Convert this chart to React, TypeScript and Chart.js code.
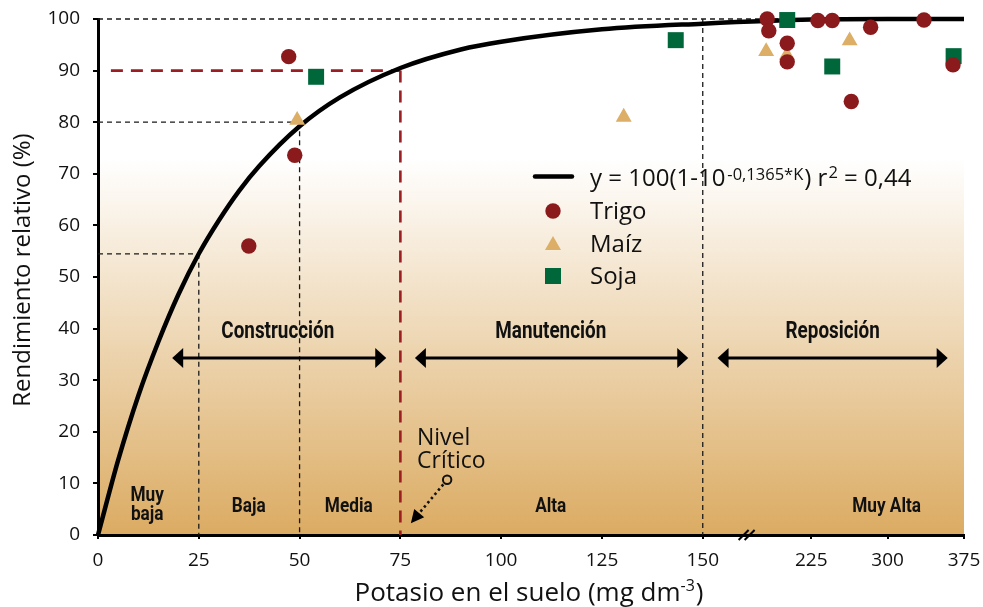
import React, { useEffect, useRef } from 'react';
import { Chart, registerables } from 'chart.js';

Chart.register(...registerables);

// ---------- data ----------
const X_TICKS = [0, 25, 50, 75, 100, 125, 150, 225, 300, 375];
const Y_MIN = 0;
const Y_MAX = 100;
const Y_STEP = 10;

// fitted curve y = 100(1-10^(-0,01365*K))
const CURVE_K = [0, 5, 10, 15, 20, 25, 30, 35, 40, 50, 60, 75, 90, 100, 125, 150, 225, 300, 375];
const CURVE_Y = [0, 14.5, 27, 37.5, 46.7, 54.5, 61, 66.7, 71.5, 79.2, 84.8, 90.5, 94.1, 95.6, 98, 99.1, 99.9, 100, 100];

const TRIGO_K = [47.3, 48.8, 37.4, 181.7, 183.3, 201.4, 201.4, 231.5, 245.6, 283.3, 264.3, 335.7, 364.2];
const TRIGO_Y = [92.7, 73.6, 56.0, 100, 97.7, 95.3, 91.7, 99.7, 99.7, 98.4, 84.0, 99.8, 91.1];

const MAIZ_K = [49.4, 130.4, 180.7, 201.0, 262.7];
const MAIZ_Y = [80.4, 81.0, 93.7, 93.0, 95.8];

const SOJA_K = [54.1, 143.3, 201.4, 245.6, 364.8];
const SOJA_Y = [88.8, 95.9, 99.8, 90.8, 92.8];

const SERIES_NAMES = ['Trigo', 'Maíz', 'Soja'];
const CURVE_LABEL_MAIN = 'y = 100(1-10';
const CURVE_LABEL_EXP = '-0,1365*K';
const R2_VALUE = '0,44';

const ZONES = [
  { k: 12.2, lines: ['Muy', 'baja'] },
  { k: 37.4, lines: ['Baja'] },
  { k: 62.2, lines: ['Media'] },
  { k: 112.3, lines: ['Alta'] },
  { k: 299, lines: ['Muy Alta'] },
];
const PHASES = [
  { label: 'Construcción', from: 18.4, to: 71.5, mid: 44.6 },
  { label: 'Manutención', from: 78.6, to: 146.4, mid: 112.3 },
  { label: 'Reposición', from: 153.5, to: 359, mid: 246 },
];

// ---------- broken x axis mapping ----------
const KB = [0, 150, 160, 375];
const UB = [0, 150, 160.5, 214.8];
function toU(k: number): number {
  for (let i = 1; i < KB.length; i++) {
    if (k <= KB[i] || i === KB.length - 1) {
      const t = (k - KB[i - 1]) / (KB[i] - KB[i - 1]);
      return UB[i - 1] + t * (UB[i] - UB[i - 1]);
    }
  }
  return 0;
}
function fromU(u: number): number {
  for (let i = 1; i < UB.length; i++) {
    if (u <= UB[i] || i === UB.length - 1) {
      const t = (u - UB[i - 1]) / (UB[i] - UB[i - 1]);
      return KB[i - 1] + t * (KB[i] - KB[i - 1]);
    }
  }
  return 0;
}

const FONT = '"Open Sans", Lato, sans-serif';
const COND = 'Roboto, "DejaVu Sans", sans-serif';
const RED = '#8b1a1d';
const TAN = '#dcae66';
const GREEN = '#00673a';
const DASHRED = '#9c1d22';

function condText(ctx: CanvasRenderingContext2D, text: string, x: number, y: number, size: number) {
  ctx.save();
  ctx.font = `bold ${size}px ${COND}`;
  ctx.textAlign = 'center';
  ctx.textBaseline = 'middle';
  ctx.translate(x, y);
  ctx.scale(0.82, 1);
  ctx.fillStyle = '#111';
  ctx.fillText(text, 0, 0);
  ctx.restore();
}

function dblArrow(ctx: CanvasRenderingContext2D, x1: number, x2: number, y: number) {
  const hl = 11, hh = 10;
  ctx.save();
  ctx.strokeStyle = '#000';
  ctx.fillStyle = '#000';
  ctx.lineWidth = 3;
  ctx.setLineDash([]);
  ctx.beginPath();
  ctx.moveTo(x1 + hl - 1, y);
  ctx.lineTo(x2 - hl + 1, y);
  ctx.stroke();
  ctx.beginPath();
  ctx.moveTo(x1, y);
  ctx.lineTo(x1 + hl, y - hh);
  ctx.lineTo(x1 + hl, y + hh);
  ctx.closePath();
  ctx.fill();
  ctx.beginPath();
  ctx.moveTo(x2, y);
  ctx.lineTo(x2 - hl, y - hh);
  ctx.lineTo(x2 - hl, y + hh);
  ctx.closePath();
  ctx.fill();
  ctx.restore();
}

const decorPlugin = {
  id: 'decor',
  beforeDraw(chart: any) {
    const { ctx, chartArea: ca } = chart;
    ctx.save();
    ctx.fillStyle = '#fff';
    ctx.fillRect(0, 0, chart.width, chart.height);
    const g = ctx.createLinearGradient(0, ca.top, 0, ca.bottom);
    g.addColorStop(0, '#ffffff');
    g.addColorStop(0.27, '#ffffff');
    g.addColorStop(1, '#dbab62');
    ctx.fillStyle = g;
    ctx.fillRect(ca.left, ca.top, ca.right - ca.left, ca.bottom - ca.top);
    ctx.restore();
  },
  beforeDatasetsDraw(chart: any) {
    const { ctx, chartArea: ca } = chart;
    const xs = chart.scales.x, ys = chart.scales.y;
    const px = (k: number) => xs.getPixelForValue(k);
    const py = (v: number) => ys.getPixelForValue(v);
    ctx.save();

    // legend
    ctx.strokeStyle = '#000';
    ctx.lineWidth = 4.5;
    ctx.lineCap = 'round';
    ctx.beginPath();
    ctx.moveTo(535, 176.5);
    ctx.lineTo(572, 176.5);
    ctx.stroke();
    ctx.lineCap = 'butt';
    ctx.fillStyle = '#111';
    ctx.textBaseline = 'alphabetic';
    ctx.textAlign = 'left';
    let x = 590;
    ctx.font = `24px ${FONT}`;
    ctx.fillText(CURVE_LABEL_MAIN, x, 186);
    x += ctx.measureText(CURVE_LABEL_MAIN).width + 2;
    ctx.font = `16.5px ${FONT}`;
    ctx.fillText(CURVE_LABEL_EXP, x, 180);
    x += ctx.measureText(CURVE_LABEL_EXP).width + 1;
    ctx.font = `24px ${FONT}`;
    ctx.fillText(') r', x, 186);
    x += ctx.measureText(') r').width + 1;
    ctx.font = `16.5px ${FONT}`;
    ctx.fillText('2', x, 178);
    x += ctx.measureText('2').width;
    ctx.font = `24px ${FONT}`;
    ctx.fillText(' = ' + R2_VALUE, x, 186);

    const ly = [211, 244, 276];
    ctx.font = `24px ${FONT}`;
    SERIES_NAMES.forEach((n, i) => ctx.fillText(n, 590, ly[i] + 8));
    ctx.fillStyle = RED;
    ctx.beginPath();
    ctx.arc(553, ly[0], 7.7, 0, Math.PI * 2);
    ctx.fill();
    ctx.fillStyle = TAN;
    ctx.beginPath();
    ctx.moveTo(553, ly[1] - 8);
    ctx.lineTo(561, ly[1] + 6);
    ctx.lineTo(545, ly[1] + 6);
    ctx.closePath();
    ctx.fill();
    ctx.fillStyle = GREEN;
    ctx.fillRect(545, ly[2] - 8, 16, 16);

    // dashed reference lines (black)
    ctx.strokeStyle = '#1a1a1a';
    ctx.lineWidth = 1.3;
    ctx.setLineDash([5, 4]);
    const seg = (x1: number, y1: number, x2: number, y2: number) => {
      ctx.beginPath();
      ctx.moveTo(x1, y1);
      ctx.lineTo(x2, y2);
      ctx.stroke();
    };
    seg(px(0), py(100), ca.right, py(100));
    seg(px(0), py(80), px(50), py(80));
    seg(px(50), py(80), px(50), py(0));
    seg(px(0), py(54.5), px(25), py(54.5));
    seg(px(25), py(54.5), px(25), py(0));
    seg(px(150), py(100), px(150), py(0));

    // red critical level
    ctx.strokeStyle = DASHRED;
    ctx.lineWidth = 2.6;
    ctx.setLineDash([12, 8]);
    seg(px(3.2), py(90), px(75), py(90));
    ctx.setLineDash([12, 8]);
    seg(px(75), py(90), px(75), py(0));
    ctx.setLineDash([]);

    // phases
    PHASES.forEach((p) => {
      dblArrow(ctx, px(p.from), px(p.to), py(34.3));
      condText(ctx, p.label, px(p.mid), py(39.3), 23);
    });

    // zones
    ZONES.forEach((z) => {
      if (z.lines.length === 2) {
        condText(ctx, z.lines[0], px(z.k), py(7.7), 21);
        condText(ctx, z.lines[1], px(z.k), py(3.9), 21);
      } else {
        condText(ctx, z.lines[0], px(z.k), py(5.5), 21);
      }
    });

    // Nivel crítico
    ctx.fillStyle = '#111';
    ctx.font = `23px ${FONT}`;
    ctx.textAlign = 'left';
    ctx.fillText('Nivel', 417, 445);
    ctx.fillText('Crítico', 417, 468);
    const cx = px(86.6), cy = py(10.7);
    ctx.strokeStyle = '#111';
    ctx.lineWidth = 2;
    ctx.beginPath();
    ctx.arc(cx, cy, 4.2, 0, Math.PI * 2);
    ctx.stroke();
    const tx = px(77.6), ty = py(2.3);
    const ang = Math.atan2(ty - cy, tx - cx);
    ctx.lineWidth = 2.6;
    ctx.setLineDash([2.5, 3]);
    ctx.beginPath();
    ctx.moveTo(cx + Math.cos(ang) * 6, cy + Math.sin(ang) * 6);
    ctx.lineTo(tx - Math.cos(ang) * 11, ty - Math.sin(ang) * 11);
    ctx.stroke();
    ctx.setLineDash([]);
    ctx.fillStyle = '#000';
    ctx.beginPath();
    ctx.moveTo(tx, ty);
    const bx = tx - Math.cos(ang) * 13, by = ty - Math.sin(ang) * 13;
    const nx = -Math.sin(ang) * 6.5, ny = Math.cos(ang) * 6.5;
    ctx.lineTo(bx + nx, by + ny);
    ctx.lineTo(bx - nx, by - ny);
    ctx.closePath();
    ctx.fill();

    ctx.restore();
  },
  afterDraw(chart: any) {
    const { ctx, chartArea: ca } = chart;
    const xs = chart.scales.x;
    ctx.save();
    // axis break marks
    const bxp = xs.getPixelForValue(161.5);
    ctx.strokeStyle = '#000';
    ctx.lineWidth = 2;
    [-3, 3].forEach((d) => {
      ctx.beginPath();
      ctx.moveTo(bxp + d - 5, ca.bottom + 5);
      ctx.lineTo(bxp + d + 5, ca.bottom - 5);
      ctx.stroke();
    });
    // axis titles
    ctx.fillStyle = '#111';
    ctx.font = `24px ${FONT}`;
    ctx.textBaseline = 'alphabetic';
    ctx.save();
    ctx.translate(30, 270);
    ctx.rotate(-Math.PI / 2);
    ctx.textAlign = 'center';
    ctx.fillText('Rendimiento relativo (%)', 0, 0);
    ctx.restore();

    const main = 'Potasio en el suelo (mg dm';
    const sup = '-3';
    const end = ')';
    ctx.font = `26px ${FONT}`;
    const w1 = ctx.measureText(main).width;
    const w3 = ctx.measureText(end).width;
    ctx.font = `16px ${FONT}`;
    const w2 = ctx.measureText(sup).width;
    let x0 = 529 - (w1 + w2 + w3 + 1) / 2;
    ctx.textAlign = 'left';
    ctx.font = `26px ${FONT}`;
    ctx.fillText(main, x0, 601);
    x0 += w1;
    ctx.font = `16px ${FONT}`;
    ctx.fillText(sup, x0, 591);
    x0 += w2 + 1;
    ctx.font = `26px ${FONT}`;
    ctx.fillText(end, x0, 601);
    ctx.restore();
  },
};

export default function App() {
  const ref = useRef<HTMLCanvasElement | null>(null);
  useEffect(() => {
    if (!ref.current) return;
    const pts = (ks: number[], ys: number[]) => ks.map((k, i) => ({ x: k, y: ys[i] }));
    const chart = new Chart(ref.current, {
      type: 'scatter',
      data: {
        datasets: [
          {
            label: SERIES_NAMES[0],
            data: pts(TRIGO_K, TRIGO_Y),
            pointStyle: 'circle',
            pointRadius: 7.7,
            pointBorderWidth: 0,
            backgroundColor: RED,
            borderColor: RED,
            order: 0,
            clip: false,
          } as any,
          {
            label: SERIES_NAMES[1],
            data: pts(MAIZ_K, MAIZ_Y),
            pointStyle: 'triangle',
            pointRadius: 9.2,
            pointBorderWidth: 0,
            backgroundColor: TAN,
            borderColor: TAN,
            order: 1,
            clip: false,
          },
          {
            label: SERIES_NAMES[2],
            data: pts(SOJA_K, SOJA_Y),
            pointStyle: 'rect',
            pointRadius: 11.3,
            pointBorderWidth: 0,
            backgroundColor: GREEN,
            borderColor: GREEN,
            order: 2,
            clip: false,
          },
          {
            label: 'Curva',
            data: pts(CURVE_K, CURVE_Y),
            showLine: true,
            pointRadius: 0,
            borderColor: '#000',
            borderWidth: 4.5,
            cubicInterpolationMode: 'monotone',
            order: 3,
            clip: false,
          } as any,
        ],
      },
      options: {
        animation: false,
        responsive: true,
        maintainAspectRatio: false,
        layout: { padding: { left: 0, top: 19, right: 19, bottom: 0 } },
        plugins: { legend: { display: false }, tooltip: { enabled: false } },
        scales: {
          x: {
            type: 'linear',
            min: 0,
            max: 375,
            afterBuildTicks: (s: any) => {
              s.ticks = X_TICKS.map((v) => ({ value: v }));
              s.getPixelForValue = function (v: number) {
                return this.getPixelForDecimal(toU(v) / toU(375));
              };
              s.getValueForPixel = function (p: number) {
                return fromU(this.getDecimalForPixel(p) * toU(375));
              };
            },
            afterFit: (s: any) => {
              s.height = 72;
              s.paddingLeft = 0;
              s.paddingRight = 0;
              s.paddingTop = 0;
              s.paddingBottom = 0;
            },
            ticks: {
              autoSkip: false,
              maxRotation: 0,
              padding: 10,
              color: '#111',
              font: { family: FONT, size: 19 },
              callback: (v: any) => String(v),
            },
            grid: { display: true, drawOnChartArea: false, tickLength: 4, color: '#000', lineWidth: 2 },
            border: { display: true, color: '#000', width: 3 },
          },
          y: {
            type: 'linear',
            min: Y_MIN,
            max: Y_MAX,
            afterFit: (s: any) => {
              s.width = 98;
              s.paddingLeft = 0;
              s.paddingRight = 0;
              s.paddingTop = 0;
              s.paddingBottom = 0;
            },
            ticks: {
              stepSize: Y_STEP,
              padding: 13,
              color: '#111',
              font: { family: FONT, size: 19 },
            },
            grid: { display: true, drawOnChartArea: false, tickLength: 5, color: '#000', lineWidth: 2 },
            border: { display: true, color: '#000', width: 3 },
          },
        },
      },
      plugins: [decorPlugin],
    } as any);
    return () => chart.destroy();
  }, []);
  return (
    <div style={{ position: 'fixed', left: 0, top: 0, width: 983, height: 607 }}>
      <canvas ref={ref} />
    </div>
  );
}
